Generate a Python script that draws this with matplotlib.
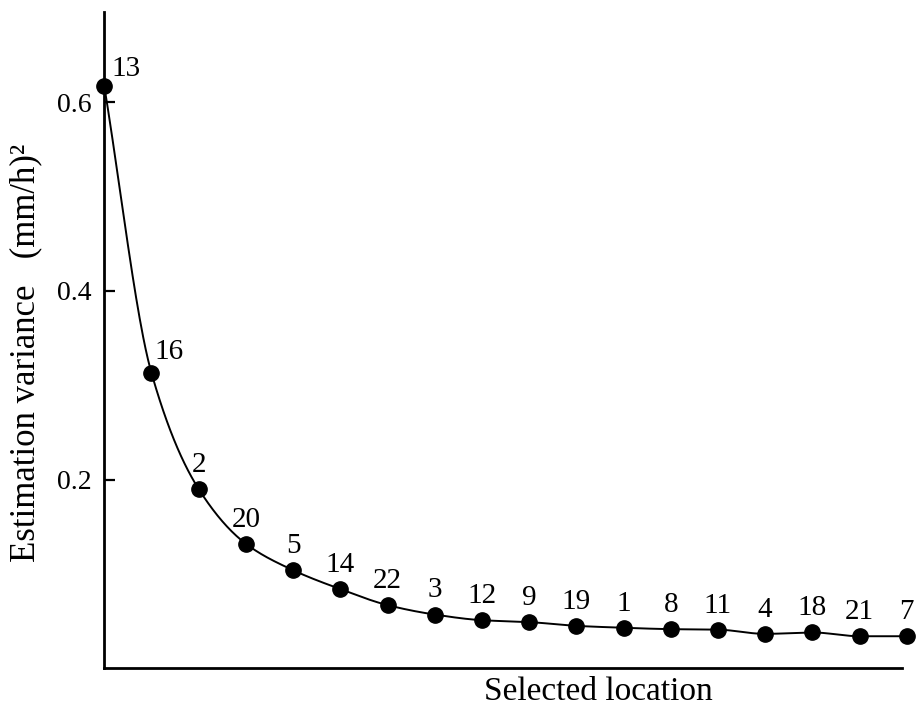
import numpy as np
import matplotlib
matplotlib.use("Agg")
import matplotlib.pyplot as plt

# Selection order of gauge locations and the resulting estimation variance
locations = ["13", "16", "2", "20", "5", "14", "22", "3", "12", "9",
             "19", "1", "8", "11", "4", "18", "21", "7"]
variance = [0.617, 0.313, 0.190, 0.132, 0.104, 0.084, 0.067, 0.057, 0.051,
            0.049, 0.045, 0.043, 0.0415, 0.041, 0.0365, 0.038, 0.034, 0.034]
yticks = [0.2, 0.4, 0.6]
ytick_labels = ["0.2", "0.4", "0.6"]

plt.rcParams["font.family"] = ["Liberation Serif", "DejaVu Serif"]

fig = plt.figure(figsize=(9.18, 7.15), dpi=100)
ax = fig.add_axes([0.1136, 0.0653, 0.869, 0.9183])

x = np.arange(len(variance), dtype=float)
y = np.asarray(variance, dtype=float)


def pchip_curve(xs, ys, n=40):
    """Monotone cubic (Fritsch-Carlson) curve through the given points."""
    h = np.diff(xs)
    d = np.diff(ys) / h
    m = np.zeros_like(ys)
    m[0], m[-1] = d[0], d[-1]
    for k in range(1, len(xs) - 1):
        if d[k - 1] * d[k] > 0:
            w1 = 2 * h[k] + h[k - 1]
            w2 = h[k] + 2 * h[k - 1]
            m[k] = (w1 + w2) / (w1 / d[k - 1] + w2 / d[k])
    out_x, out_y = [], []
    for k in range(len(xs) - 1):
        t = np.linspace(0, 1, n, endpoint=(k == len(xs) - 2))
        h00 = 2 * t**3 - 3 * t**2 + 1
        h10 = t**3 - 2 * t**2 + t
        h01 = -2 * t**3 + 3 * t**2
        h11 = t**3 - t**2
        out_x.append(xs[k] + t * h[k])
        out_y.append(h00 * ys[k] + h10 * h[k] * m[k] + h01 * ys[k + 1] + h11 * h[k] * m[k + 1])
    return np.concatenate(out_x), np.concatenate(out_y)


cx, cy = pchip_curve(x, y)
ax.plot(cx, cy, color="black", lw=1.4, clip_on=False, zorder=2)
ax.plot(x, y, "o", color="black", ms=11, clip_on=False, zorder=3)

for i, (lab, xv, yv) in enumerate(zip(locations, x, y)):
    if i == 0:
        ax.annotate(lab, (xv, yv), xytext=(5, 3), textcoords="offset points",
                    ha="left", va="bottom", fontsize=21, annotation_clip=False)
    elif i == 1:
        ax.annotate(lab, (xv, yv), xytext=(2, 6), textcoords="offset points",
                    ha="left", va="bottom", fontsize=21, annotation_clip=False)
    else:
        ax.annotate(lab, (xv, yv), xytext=(0, 8), textcoords="offset points",
                    ha="center", va="bottom", fontsize=21, annotation_clip=False)

ax.set_xlim(0, 16.9)
ax.set_ylim(0, 0.696)

for side in ("top", "right"):
    ax.spines[side].set_visible(False)
for side in ("left", "bottom"):
    ax.spines[side].set_linewidth(2.0)

ax.set_xticks([])
ax.set_yticks(yticks)
ax.set_yticklabels(ytick_labels)
ax.tick_params(axis="y", direction="in", length=8, width=1.6, labelsize=20, pad=9)

fig.text(713 / 918, 1 - 692 / 715, "Selected location", ha="right", va="center", fontsize=24)
fig.text(26 / 918, 1 - 353 / 715, "Estimation variance   (mm/h)\u00b2", rotation=90,
         ha="center", va="center", fontsize=25)

fig.savefig("out.png", dpi=100)
